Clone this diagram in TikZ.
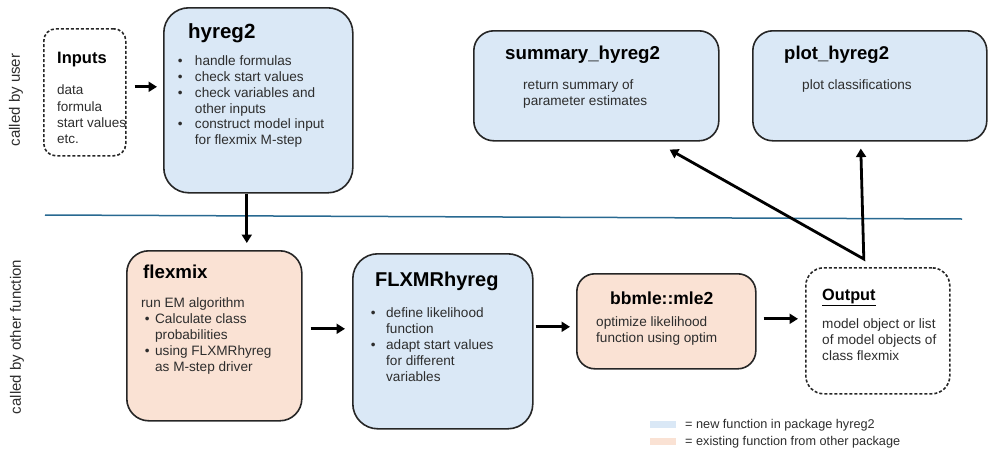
\documentclass[tikz,border=0pt]{standalone}
\usepackage{fontspec}
\setmainfont{Liberation Sans}
\usetikzlibrary{arrows.meta}
\definecolor{boxblue}{RGB}{218,232,246}
\definecolor{boxorange}{RGB}{250,226,212}
\definecolor{sepline}{RGB}{40,105,145}
\definecolor{txt}{RGB}{45,45,45}
\tikzset{
  funcbox/.style={draw=black!85, line width=1.6pt, rounded corners=#1, inner sep=0pt, anchor=north west},
  dashbox/.style={funcbox=#1, dashed, dash pattern=on 3pt off 2pt},
  title/.style={anchor=base west, inner sep=0pt, font=\bfseries\fontsize{#1}{#1}\selectfont, text=black},
  body/.style={anchor=north west, inner sep=0pt, text=txt},
  arr/.style={line width=2.8pt, -{Triangle[length=8.5pt,width=10pt]}},
  side/.style={rotate=90, inner sep=0pt, text=txt, font=\fontsize{15}{18}\selectfont},
  legbox/.style={anchor=north west, inner sep=0pt, minimum width=26pt, minimum height=7pt},
  legtext/.style={anchor=base west, inner sep=0pt, text=txt, font=\fontsize{12.7}{15}\selectfont}
}
\begin{document}
\begin{tikzpicture}[x=1pt,y=-1pt]
\useasboundingbox (0,0) rectangle (988,450);

% separator
\coordinate (sepL) at (45,215);
\coordinate (sepR) at (962,219);
\draw[sepline, line width=1.5pt] (sepL) -- (sepR);

% side labels
\node[side] (lblUser) at (16,100) {called by user};
\node[side] (lblOther) at (17,337) {called by other function};

% boxes
\node[dashbox=12pt, minimum width=82pt, minimum height=127pt] (inputs) at (43,28) {};
\node[funcbox=25pt, fill=boxblue, minimum width=189pt, minimum height=185pt] (hyreg) at (163,7) {};
\node[funcbox=20pt, fill=boxblue, minimum width=245pt, minimum height=110pt] (summary) at (473,30) {};
\node[funcbox=20pt, fill=boxblue, minimum width=234pt, minimum height=110pt] (plot) at (752,30) {};
\node[funcbox=22pt, fill=boxorange, minimum width=175pt, minimum height=170pt] (flexmix) at (126,250) {};
\node[funcbox=25pt, fill=boxblue, minimum width=180pt, minimum height=175pt] (flxmr) at (352,253) {};
\node[funcbox=18pt, fill=boxorange, minimum width=179pt, minimum height=95pt] (bbmle) at (576,273) {};
\node[dashbox=18pt, minimum width=144pt, minimum height=126pt] (output) at (805,267) {};

% titles
\node[title=16.5] (inputsT) at (57,63) {Inputs};
\node[title=20.5] (hyregT) at (188,38) {hyreg2};
\node[title=18.7] (summaryT) at (505,59) {summary\_hyreg2};
\node[title=18.5] (plotT) at (784,59) {plot\_hyreg2};
\node[title=18.7] (flexmixT) at (143,278) {flexmix};
\node[title=20] (flxmrT) at (375,286) {FLXMRhyreg};
\node[title=17.5] (bbmleT) at (610,304) {bbmle::mle2};
\node[title=16.3] (outputT) at (822,300) {\underline{Output}};

% bodies
\node[body, font=\fontsize{13.5}{16.3}\selectfont] (inputsB) at (57,83.1)
  {\begin{tabular}{@{}l@{}}data\\formula\\start values\\etc.\end{tabular}};
\node[body, font=\fontsize{13.6}{15.8}\selectfont] (hyregB) at (177.7,54.4)
  {\begin{tabular}{@{}l@{\hspace{12.3pt}}l@{}}
   \textbullet & handle formulas\\
   \textbullet & check start values\\
   \textbullet & check variables and\\
   & other inputs\\
   \textbullet & construct model input\\
   & for flexmix M-step
   \end{tabular}};
\node[body, font=\fontsize{13.6}{16}\selectfont] (summaryB) at (523,78.3)
  {\begin{tabular}{@{}l@{}}return summary of\\parameter estimates\end{tabular}};
\node[body, font=\fontsize{13.6}{16}\selectfont] (plotB) at (802,78.3)
  {\begin{tabular}{@{}l@{}}plot classifications\end{tabular}};
\node[body, font=\fontsize{13.6}{16}\selectfont] (flexmixB) at (141,296.3)
  {\begin{tabular}{@{\hspace{3.7pt}}l@{\hspace{5.5pt}}l@{}}
   \multicolumn{2}{@{}l@{}}{run EM algorithm}\\
   \textbullet & Calculate class\\
   & probabilities\\
   \textbullet & using FLXMRhyreg\\
   & as M-step driver
   \end{tabular}};
\node[body, font=\fontsize{13.6}{16}\selectfont] (flxmrB) at (370.7,306.3)
  {\begin{tabular}{@{}l@{\hspace{10.5pt}}l@{}}
   \textbullet & define likelihood\\
   & function\\
   \textbullet & adapt start values\\
   & for different\\
   & variables
   \end{tabular}};
\node[body, font=\fontsize{13.6}{16}\selectfont] (bbmleB) at (596,315.3)
  {\begin{tabular}{@{}l@{}}optimize likelihood\\function using optim\end{tabular}};
\node[body, font=\fontsize{13.6}{16}\selectfont] (outputB) at (822,317.3)
  {\begin{tabular}{@{}l@{}}model object or list\\of model objects of\\class flexmix\end{tabular}};

% legend
\node[legbox, fill=boxblue] (legBlue) at (650,421) {};
\node[legbox, fill=boxorange] (legOrange) at (650,438) {};
\node[legtext] (legBlueT) at (685,428.5) {= new function in package hyreg2};
\node[legtext] (legOrangeT) at (685,445.5) {= existing function from other package};

% connectors
\coordinate (ie) at ([yshift=5.5pt]inputs.east);
\draw[arr, shorten <=8pt, shorten >=6pt] (ie) -- (ie -| hyreg.west);

\coordinate (hv) at ([xshift=-11.5pt]hyreg.south);
\draw[arr, shorten >=7pt] (hv) -- (hv |- flexmix.north);

\coordinate (fe) at ([yshift=7pt]flexmix.east);
\draw[arr, shorten <=8pt, shorten >=7pt] (fe) -- (fe -| flxmr.west);

\coordinate (xe) at ([yshift=14.5pt]flxmr.east);
\draw[arr, shorten <=2pt, shorten >=6pt] (xe) -- (xe -| bbmle.west);

\coordinate (be) at ([yshift=2.5pt]bbmle.east);
\draw[arr, shorten <=7pt, shorten >=7pt] (be) -- (be -| output.west);

\coordinate (junc) at ([xshift=-14pt,yshift=8pt]output.north);
\coordinate (sumtip) at ([xshift=-50pt,yshift=-8pt]summary.south east);
\coordinate (plottip) at ([xshift=-9pt,yshift=-7pt]plot.south);
\draw[line width=2.8pt, line join=miter, {Triangle[length=8.5pt,width=10pt]}-{Triangle[length=8.5pt,width=10pt]}] (sumtip) -- (junc) -- (plottip);
\end{tikzpicture}
\end{document}
